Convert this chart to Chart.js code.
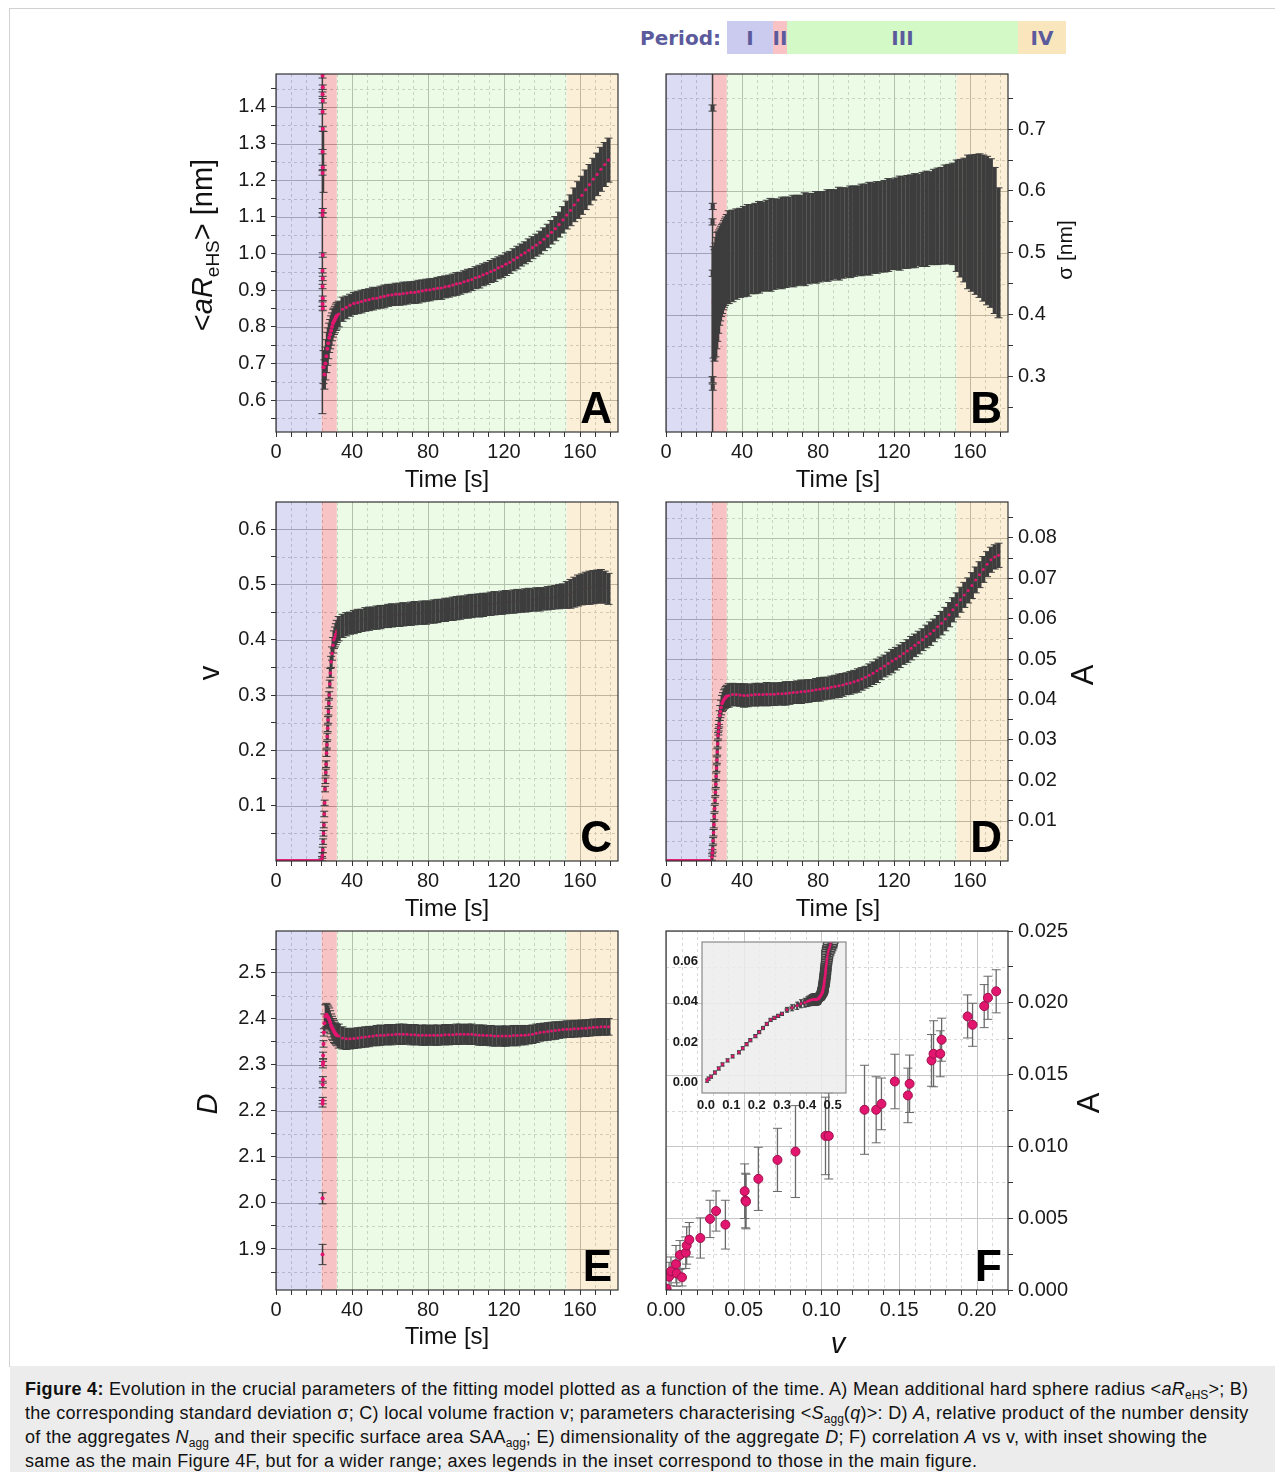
<!DOCTYPE html>
<html>
<head>
<meta charset="utf-8">
<script src="https://cdn.jsdelivr.net/npm/chart.js@4.4.1/dist/chart.umd.min.js"></script>
<style>
  body { margin: 0; width: 1275px; height: 1472px; position: relative; overflow: hidden; background: #fff;
         font-family: "Liberation Sans", Arial, sans-serif; }
  canvas { position: absolute; }
  .frame { position: absolute; left: 9px; top: 8px; width: 1266px; height: 1358px;
           border-left: 1px solid #d2d2d2; border-top: 1px solid #d2d2d2; }
  .per { position: absolute; top: 21px; height: 33px; display: flex; align-items: center; justify-content: center;
         font-family: "DejaVu Sans", sans-serif; font-weight: bold; font-size: 20px; color: #5b5a9c; }
  #caption { position: absolute; left: 10px; top: 1366px; width: 1250px; height: 95px; padding: 11px 0 0 15px;
             background: #ececec; font-size: 18px; letter-spacing: 0.3px; line-height: 24px; color: #111; white-space: nowrap; }
  #caption sub { font-size: 12px; vertical-align: -4px; line-height: 0; letter-spacing: 0; }
</style>
</head>
<body>
<div class="frame"></div>

<div class="per" style="left:640px;width:84px;justify-content:flex-start">Period:</div>
<div class="per" style="left:727px;width:46px;background:#cbcbef">I</div>
<div class="per" style="left:773px;width:14px;background:#f9c3c6">II</div>
<div class="per" style="left:787px;width:231px;background:#d3fac6">III</div>
<div class="per" style="left:1018px;width:48px;background:#fae6bd">IV</div>

<canvas id="chartA"></canvas>
<canvas id="chartB"></canvas>
<canvas id="chartC"></canvas>
<canvas id="chartD"></canvas>
<canvas id="chartE"></canvas>
<canvas id="chartF"></canvas>
<canvas id="chartInset"></canvas>

<div id="caption"><b>Figure 4:</b> Evolution in the crucial parameters of the fitting model plotted as a function of the time. A) Mean additional hard sphere radius &lt;<i>aR</i><sub>eHS</sub>&gt;; B)<br>the corresponding standard deviation σ; C) local volume fraction v; parameters characterising &lt;<i>S</i><sub>agg</sub>(<i>q</i>)&gt;: D) <i>A</i>, relative product of the number density<br>of the aggregates <i>N</i><sub>agg</sub> and their specific surface area SAA<sub>agg</sub>; E) dimensionality of the aggregate <i>D</i>; F) correlation <i>A</i> vs v, with inset showing the<br>same as the main Figure 4F, but for a wider range; axes legends in the inset correspond to those in the main figure.</div>

<script>
// ---- periods (time boundaries in s) ----
const periodBounds = [0, 24, 32, 153, 180];
const periodColors = ['rgba(186,186,234,0.5)', 'rgba(239,135,137,0.5)', 'rgba(215,247,205,0.5)', 'rgba(249,223,177,0.5)'];

// ---- ticks ----
const timeTicks = [0, 8, 16, 24, 32, 40, 48, 56, 64, 72, 80, 88, 96, 104, 112, 120, 128, 136, 144, 152, 160, 168, 176];
const timeLabels = [0, 40, 80, 120, 160];
const aRticks = [0.55, 0.6, 0.65, 0.7, 0.75, 0.8, 0.85, 0.9, 0.95, 1.0, 1.05, 1.1, 1.15, 1.2, 1.25, 1.3, 1.35, 1.4, 1.45];
const aRlabels = [0.6, 0.7, 0.8, 0.9, 1.0, 1.1, 1.2, 1.3, 1.4];
const sigmaTicks = [0.25, 0.3, 0.35, 0.4, 0.45, 0.5, 0.55, 0.6, 0.65, 0.7, 0.75];
const sigmaLabels = [0.3, 0.4, 0.5, 0.6, 0.7];
const vTicks = [0.05, 0.1, 0.15, 0.2, 0.25, 0.3, 0.35, 0.4, 0.45, 0.5, 0.55, 0.6];
const vLabels = [0.1, 0.2, 0.3, 0.4, 0.5, 0.6];
const aTicks = [0.005, 0.01, 0.015, 0.02, 0.025, 0.03, 0.035, 0.04, 0.045, 0.05, 0.055, 0.06, 0.065, 0.07, 0.075, 0.08, 0.085];
const aLabels = [0.01, 0.02, 0.03, 0.04, 0.05, 0.06, 0.07, 0.08];
const dTicks = [1.85, 1.9, 1.95, 2.0, 2.05, 2.1, 2.15, 2.2, 2.25, 2.3, 2.35, 2.4, 2.45, 2.5, 2.55];
const dLabels = [1.9, 2.0, 2.1, 2.2, 2.3, 2.4, 2.5];
const fxTicks = [0, 0.01, 0.02, 0.03, 0.04, 0.05, 0.06, 0.07, 0.08, 0.09, 0.1, 0.11, 0.12, 0.13, 0.14, 0.15, 0.16, 0.17, 0.18, 0.19, 0.2, 0.21, 0.22];
const fxLabels = [0, 0.05, 0.1, 0.15, 0.2];
const fyTicks = [0, 0.0025, 0.005, 0.0075, 0.01, 0.0125, 0.015, 0.0175, 0.02, 0.0225, 0.025];
const fyLabels = [0, 0.005, 0.01, 0.015, 0.02, 0.025];
const insetXLabels = [0, 0.1, 0.2, 0.3, 0.4, 0.5];
const insetYLabels = [0, 0.02, 0.04, 0.06];

// ---- shared time grid of the main (period III/IV) readings ----
const mainTime = [
  33, 35, 37, 39, 41, 43, 45, 47,
  49, 51, 53, 55, 57, 59, 61, 63,
  65, 67, 69, 71, 73, 75, 77, 79,
  81, 83, 85, 87, 89, 91, 93, 95,
  97, 99, 101, 103, 105, 107, 109, 111,
  113, 115, 117, 119, 121, 123, 125, 127,
  129, 131, 133, 135, 137, 139, 141, 143,
  145, 147, 149, 151, 153, 155, 157, 159,
  161, 163, 165, 167, 169, 171, 173, 175];

// ---- A: <aR_eHS> [nm] ----
const aRspikeTime = [24.4, 25.0];
const aRspike = [1.06, 1.25];
const aRspikeErr = [0.497, 0.083];
const aRearlyTime = [24.5, 24.6, 24.5, 24.6, 24.5, 24.6, 24.5, 24.6, 24.5, 24.6, 24.5, 24.6, 24.5, 24.6, 24.5, 24.6, 24.5, 24.6,
  25.0, 25.5, 26.0, 26.5, 27.0, 27.5, 28.0, 28.5, 29.0, 29.5, 30.0, 30.5, 31.0, 31.5, 32.0];
const aRearly = [1.485, 1.454, 1.435, 1.417, 1.387, 1.340, 1.278, 1.235, 1.220, 1.117, 1.105, 0.996, 0.953, 0.932, 0.910, 0.878, 0.862, 0.850,
  0.69, 0.67, 0.70, 0.72, 0.74, 0.755, 0.77, 0.78, 0.79, 0.80, 0.81, 0.815, 0.82, 0.826, 0.83];
const aRearlyErr = [0.006, 0.006, 0.006, 0.006, 0.006, 0.006, 0.006, 0.006, 0.006, 0.006, 0.006, 0.006, 0.006, 0.006, 0.006, 0.006, 0.006, 0.006,
  0.045, 0.04, 0.045, 0.045, 0.045, 0.042, 0.04, 0.04, 0.04, 0.038, 0.038, 0.036, 0.036, 0.036, 0.036];
const aRmain = [
  0.835, 0.848, 0.853, 0.859, 0.864, 0.866, 0.869, 0.872,
  0.874, 0.877, 0.878, 0.881, 0.883, 0.886, 0.887, 0.889,
  0.889, 0.891, 0.892, 0.894, 0.894, 0.896, 0.898, 0.900,
  0.901, 0.903, 0.905, 0.906, 0.909, 0.911, 0.914, 0.917,
  0.919, 0.923, 0.926, 0.929, 0.934, 0.937, 0.942, 0.946,
  0.951, 0.955, 0.961, 0.965, 0.971, 0.976, 0.983, 0.989,
  0.996, 1.002, 1.009, 1.016, 1.023, 1.030, 1.039, 1.048,
  1.058, 1.068, 1.079, 1.092, 1.105, 1.118, 1.133, 1.146,
  1.159, 1.174, 1.188, 1.203, 1.216, 1.230, 1.243, 1.255];
const aRmainErr = [
  0.035, 0.033, 0.031, 0.030, 0.030, 0.030, 0.031, 0.030,
  0.030, 0.031, 0.029, 0.030, 0.031, 0.030, 0.029, 0.030,
  0.030, 0.031, 0.030, 0.029, 0.030, 0.031, 0.030, 0.030,
  0.030, 0.029, 0.030, 0.031, 0.030, 0.030, 0.030, 0.031,
  0.030, 0.030, 0.031, 0.030, 0.030, 0.031, 0.030, 0.030,
  0.030, 0.031, 0.030, 0.030, 0.031, 0.030, 0.030, 0.031,
  0.030, 0.030, 0.031, 0.030, 0.030, 0.031, 0.031, 0.032,
  0.032, 0.033, 0.034, 0.036, 0.038, 0.042, 0.046, 0.050,
  0.052, 0.054, 0.055, 0.057, 0.058, 0.060, 0.060, 0.060];

// ---- B: sigma [nm] ----
const sigmaSpikeTime = [24.5];
const sigmaSpike = [0.5];
const sigmaSpikeErr = [0.36];
const sigmaEarlyTime = [24.5, 24.6, 24.5, 24.6, 24.5, 24.6,
  25.0, 25.5, 26.0, 26.5, 27.0, 27.5, 28.0, 28.5, 29.0, 29.5, 30.0, 30.5, 31.0, 31.5, 32.0];
const sigmaEarly = [0.734, 0.575, 0.550, 0.467, 0.295, 0.283,
  0.42, 0.415, 0.424, 0.435, 0.445, 0.452, 0.46, 0.465, 0.47, 0.474, 0.478, 0.482, 0.485, 0.488, 0.49];
const sigmaEarlyErr = [0.005, 0.005, 0.005, 0.005, 0.005, 0.005,
  0.09, 0.09, 0.092, 0.09, 0.088, 0.082, 0.077, 0.075, 0.073, 0.072, 0.07, 0.07, 0.07, 0.07, 0.072];
const sigmaMain = [
  0.493, 0.495, 0.498, 0.500, 0.502, 0.504, 0.506, 0.507,
  0.509, 0.510, 0.512, 0.513, 0.514, 0.515, 0.516, 0.517,
  0.518, 0.519, 0.520, 0.521, 0.522, 0.523, 0.524, 0.525,
  0.526, 0.527, 0.528, 0.529, 0.530, 0.531, 0.532, 0.533,
  0.534, 0.535, 0.536, 0.537, 0.538, 0.539, 0.540, 0.541,
  0.542, 0.543, 0.545, 0.546, 0.547, 0.548, 0.549, 0.550,
  0.551, 0.552, 0.553, 0.554, 0.555, 0.556, 0.558, 0.559,
  0.560, 0.562, 0.563, 0.563, 0.560, 0.556, 0.553, 0.550,
  0.548, 0.546, 0.544, 0.540, 0.536, 0.532, 0.520, 0.500];
const sigmaMainErr = [
  0.075, 0.074, 0.073, 0.072, 0.073, 0.074, 0.072, 0.073,
  0.074, 0.072, 0.073, 0.075, 0.073, 0.072, 0.074, 0.073,
  0.072, 0.074, 0.073, 0.072, 0.075, 0.073, 0.072, 0.074,
  0.073, 0.072, 0.074, 0.073, 0.072, 0.075, 0.073, 0.072,
  0.074, 0.073, 0.072, 0.074, 0.073, 0.075, 0.073, 0.074,
  0.073, 0.074, 0.075, 0.073, 0.074, 0.076, 0.074, 0.075,
  0.075, 0.076, 0.074, 0.076, 0.077, 0.075, 0.077, 0.078,
  0.078, 0.080, 0.080, 0.082, 0.090, 0.095, 0.100, 0.108,
  0.110, 0.113, 0.116, 0.118, 0.120, 0.120, 0.118, 0.105];

// ---- C and D share their time grid (v and A come from the same fits) ----
const cdZeroTime = [0, 1, 2, 3, 4, 5, 6, 7, 8, 9, 10, 11, 12, 13, 14, 15, 16, 17, 18, 19, 20, 21, 22, 23];
const vZero = [0, 0, 0, 0, 0, 0, 0, 0, 0, 0, 0, 0, 0, 0, 0, 0, 0, 0, 0, 0, 0, 0, 0, 0];
const aZero = [0, 0, 0, 0, 0, 0, 0, 0, 0, 0, 0, 0, 0, 0, 0, 0, 0, 0, 0, 0, 0, 0, 0, 0];
const cdEarlyTime = [24.2, 24.4, 24.6, 24.8, 25.0, 25.2, 25.4, 25.6, 25.8, 26.0, 26.2, 26.4, 26.6, 26.8, 27.0,
  27.2, 27.4, 27.6, 27.8, 28.0, 28.3, 28.6, 29.0, 29.5, 30.0, 30.5, 31.0, 31.5, 32.0];

// C: local volume fraction v
const vEarly = [0.004, 0.010, 0.020, 0.035, 0.050, 0.065, 0.085, 0.105, 0.130, 0.145, 0.160, 0.175, 0.195, 0.210, 0.225,
  0.240, 0.255, 0.270, 0.285, 0.300, 0.320, 0.340, 0.360, 0.375, 0.390, 0.400, 0.405, 0.410, 0.415];
const vEarlyErr = [0.004, 0.005, 0.005, 0.005, 0.005, 0.005, 0.005, 0.005, 0.005, 0.005, 0.006, 0.006, 0.006, 0.006, 0.006,
  0.006, 0.006, 0.006, 0.006, 0.006, 0.007, 0.008, 0.010, 0.012, 0.014, 0.016, 0.018, 0.019, 0.020];
const vMain = [
  0.420, 0.425, 0.428, 0.430, 0.432, 0.434, 0.435, 0.437,
  0.438, 0.439, 0.440, 0.441, 0.442, 0.443, 0.444, 0.444,
  0.445, 0.446, 0.446, 0.447, 0.448, 0.448, 0.449, 0.449,
  0.450, 0.451, 0.452, 0.453, 0.454, 0.455, 0.456, 0.457,
  0.458, 0.459, 0.460, 0.461, 0.462, 0.462, 0.463, 0.464,
  0.465, 0.466, 0.466, 0.467, 0.468, 0.468, 0.469, 0.470,
  0.470, 0.471, 0.472, 0.472, 0.473, 0.473, 0.474, 0.475,
  0.476, 0.477, 0.478, 0.479, 0.481, 0.483, 0.486, 0.489,
  0.491, 0.493, 0.494, 0.495, 0.496, 0.497, 0.495, 0.492];
const vMainErr = [
  0.022, 0.021, 0.021, 0.020, 0.021, 0.021, 0.020, 0.021,
  0.021, 0.020, 0.021, 0.021, 0.020, 0.021, 0.021, 0.020,
  0.021, 0.021, 0.020, 0.021, 0.021, 0.020, 0.021, 0.021,
  0.020, 0.021, 0.021, 0.020, 0.021, 0.020, 0.021, 0.021,
  0.021, 0.020, 0.021, 0.021, 0.020, 0.021, 0.021, 0.020,
  0.021, 0.021, 0.020, 0.021, 0.021, 0.020, 0.021, 0.021,
  0.020, 0.021, 0.021, 0.020, 0.021, 0.021, 0.020, 0.021,
  0.021, 0.021, 0.022, 0.022, 0.024, 0.026, 0.027, 0.028,
  0.028, 0.029, 0.030, 0.030, 0.030, 0.030, 0.029, 0.028];

// D: A (relative N_agg * SAA_agg)
const aEarly = [0.001, 0.002, 0.003, 0.005, 0.007, 0.009, 0.011, 0.013, 0.015, 0.017, 0.019, 0.021, 0.023, 0.025, 0.027,
  0.029, 0.031, 0.032, 0.033, 0.034, 0.036, 0.037, 0.038, 0.039, 0.0395, 0.040, 0.0403, 0.0406, 0.0408];
const aEarlyErr = [0.0008, 0.0008, 0.0008, 0.0008, 0.0008, 0.0008, 0.0008, 0.0008, 0.0008, 0.0008, 0.0008, 0.0008, 0.0008, 0.0008, 0.0008,
  0.0008, 0.0008, 0.0008, 0.0008, 0.0008, 0.0012, 0.0015, 0.0018, 0.0020, 0.0022, 0.0024, 0.0025, 0.0026, 0.0027];
const aMain = [
  0.0410, 0.0412, 0.0412, 0.0411, 0.0410, 0.0410, 0.0411, 0.0412,
  0.0412, 0.0412, 0.0413, 0.0413, 0.0413, 0.0414, 0.0414, 0.0415,
  0.0416, 0.0417, 0.0418, 0.0419, 0.0420, 0.0421, 0.0422, 0.0424,
  0.0425, 0.0427, 0.0428, 0.0430, 0.0432, 0.0434, 0.0436, 0.0439,
  0.0441, 0.0444, 0.0447, 0.0451, 0.0455, 0.0460, 0.0465, 0.0471,
  0.0477, 0.0483, 0.0489, 0.0495, 0.0501, 0.0507, 0.0514, 0.0520,
  0.0527, 0.0534, 0.0541, 0.0548, 0.0556, 0.0563, 0.0571, 0.0580,
  0.0589, 0.0599, 0.0610, 0.0622, 0.0634, 0.0647, 0.0659, 0.0670,
  0.0682, 0.0696, 0.0709, 0.0722, 0.0735, 0.0746, 0.0753, 0.0757];
const aMainErr = [
  0.0029, 0.0028, 0.0027, 0.0028, 0.0029, 0.0028, 0.0027, 0.0028,
  0.0028, 0.0027, 0.0029, 0.0028, 0.0028, 0.0027, 0.0028, 0.0029,
  0.0028, 0.0027, 0.0028, 0.0029, 0.0028, 0.0028, 0.0027, 0.0028,
  0.0029, 0.0028, 0.0027, 0.0028, 0.0028, 0.0029, 0.0028, 0.0027,
  0.0028, 0.0028, 0.0029, 0.0028, 0.0027, 0.0028, 0.0028, 0.0029,
  0.0028, 0.0027, 0.0028, 0.0029, 0.0028, 0.0028, 0.0027, 0.0028,
  0.0029, 0.0028, 0.0028, 0.0027, 0.0028, 0.0029, 0.0028, 0.0028,
  0.0029, 0.0029, 0.0030, 0.0030, 0.0030, 0.0031, 0.0031, 0.0031,
  0.0032, 0.0032, 0.0032, 0.0032, 0.0031, 0.0031, 0.0030, 0.0030];

// ---- E: dimensionality D ----
const dEarlyTime = [24.5, 24.5, 24.5, 24.6, 24.6, 24.7, 24.7, 24.8, 24.8, 25.0, 25.2, 25.5, 26.0, 26.5, 27.0,
  27.5, 28.0, 28.5, 29.0, 29.5, 30.0, 30.5, 31.0, 31.5, 32.0];
const dEarly = [1.888, 2.010, 2.215, 2.222, 2.257, 2.267, 2.300, 2.305, 2.320, 2.345, 2.370, 2.390, 2.405, 2.408, 2.405,
  2.402, 2.398, 2.392, 2.385, 2.380, 2.376, 2.372, 2.369, 2.366, 2.364];
const dEarlyErr = [0.022, 0.012, 0.007, 0.007, 0.007, 0.007, 0.007, 0.007, 0.007, 0.007, 0.008, 0.020, 0.025, 0.025, 0.025,
  0.025, 0.025, 0.025, 0.025, 0.025, 0.024, 0.024, 0.023, 0.023, 0.023];
const dMain = [
  2.362, 2.358, 2.356, 2.356, 2.357, 2.358, 2.359, 2.360,
  2.361, 2.362, 2.363, 2.364, 2.364, 2.365, 2.365, 2.366,
  2.366, 2.366, 2.366, 2.365, 2.365, 2.364, 2.364, 2.364,
  2.364, 2.364, 2.364, 2.364, 2.365, 2.365, 2.365, 2.366,
  2.366, 2.366, 2.366, 2.366, 2.365, 2.364, 2.364, 2.363,
  2.363, 2.362, 2.362, 2.362, 2.362, 2.362, 2.363, 2.363,
  2.364, 2.364, 2.365, 2.366, 2.368, 2.370, 2.371, 2.372,
  2.373, 2.374, 2.375, 2.376, 2.377, 2.377, 2.378, 2.378,
  2.379, 2.379, 2.380, 2.381, 2.381, 2.382, 2.382, 2.382];
const dMainErr = [
  0.026, 0.024, 0.023, 0.022, 0.022, 0.022, 0.022, 0.022,
  0.022, 0.021, 0.022, 0.022, 0.021, 0.022, 0.022, 0.021,
  0.022, 0.022, 0.021, 0.022, 0.022, 0.021, 0.022, 0.022,
  0.021, 0.022, 0.022, 0.021, 0.022, 0.022, 0.021, 0.022,
  0.022, 0.021, 0.022, 0.022, 0.021, 0.022, 0.022, 0.021,
  0.022, 0.022, 0.021, 0.022, 0.022, 0.021, 0.022, 0.022,
  0.021, 0.021, 0.020, 0.020, 0.020, 0.019, 0.019, 0.019,
  0.019, 0.019, 0.018, 0.018, 0.018, 0.018, 0.018, 0.018,
  0.018, 0.018, 0.018, 0.018, 0.018, 0.018, 0.018, 0.018];

// ---- F: A vs v ----
const fV = [0.0004, 0.0020, 0.0032, 0.0064, 0.0069, 0.0090, 0.0103, 0.0127, 0.0133, 0.0150,
  0.0221, 0.0283, 0.0322, 0.0382, 0.0506, 0.0511, 0.0515, 0.0594, 0.0717, 0.0833,
  0.1026, 0.1047, 0.1277, 0.1352, 0.1386, 0.1472, 0.1556, 0.1567, 0.1708, 0.1721,
  0.1764, 0.1773, 0.1940, 0.1972, 0.2047, 0.2071, 0.2124];
const fA = [0.0001, 0.00093, 0.0013, 0.0018, 0.00116, 0.00244, 0.00088, 0.0026, 0.0031, 0.0035,
  0.00362, 0.00495, 0.0055, 0.00455, 0.00688, 0.00623, 0.00616, 0.00774, 0.00906, 0.00964,
  0.01073, 0.01073, 0.01255, 0.01255, 0.01296, 0.01452, 0.01355, 0.01436, 0.01599, 0.01645,
  0.01645, 0.01743, 0.01905, 0.01847, 0.01977, 0.02035, 0.0208];
const fErr = [0, 0.001, 0.001, 0.0013, 0.0009, 0.001, 0.0006, 0.0011, 0.0013, 0.0012,
  0.0014, 0.0013, 0.0014, 0.0017, 0.0019, 0.0019, 0.0019, 0.0022, 0.0022, 0.0032,
  0.0027, 0.003, 0.0031, 0.0023, 0.0018, 0.0019, 0.0019, 0.002, 0.0018, 0.0023,
  0.0016, 0.0015, 0.0015, 0.0015, 0.0015, 0.0015, 0.0015];

// ---- drawing helpers ----
const PINK = '#e2166f';
const BAR = '#3d3d3d';
const FONT = '"Liberation Sans", Arial, sans-serif';
Chart.defaults.font.family = FONT;
Chart.defaults.color = '#1a1a1a';

const isIn = (v, list) => list.some(l => Math.abs(l - v) < 1e-9);
const pts = (xs, ys) => xs.map((x, i) => ({ x: x, y: ys[i] }));

function errSet(xs, ys, errs, style) {
  return Object.assign({
    data: pts(xs, ys), yErr: errs, pointRadius: 1.6, pointBackgroundColor: PINK, pointBorderWidth: 0,
    errColor: BAR, errWidth: 4, capSize: 4
  }, style);
}

function drawErrorBars(chart, over) {
  const ctx = chart.ctx, xs = chart.scales.x, ys = chart.scales.y;
  chart.data.datasets.forEach((ds, i) => {
    if (!ds.yErr || !!ds.barsOver !== over) return;
    const meta = chart.getDatasetMeta(i);
    const cap = ds.capSize;
    ctx.strokeStyle = ds.errColor;
    meta.data.forEach((el, j) => {
      const d = ds.data[j];
      const e = ds.yErr[j];
      if (e > 0) {
        const y0 = ys.getPixelForValue(d.y - e), y1 = ys.getPixelForValue(d.y + e);
        ctx.lineWidth = ds.errWidth;
        ctx.beginPath(); ctx.moveTo(el.x, y0); ctx.lineTo(el.x, y1); ctx.stroke();
        ctx.lineWidth = 1;
        ctx.beginPath();
        ctx.moveTo(el.x - cap, y0); ctx.lineTo(el.x + cap, y0);
        ctx.moveTo(el.x - cap, y1); ctx.lineTo(el.x + cap, y1);
        ctx.stroke();
      }
      if (ds.xErr && ds.xErr[j] > 0) {
        const x0 = xs.getPixelForValue(d.x - ds.xErr[j]), x1 = xs.getPixelForValue(d.x + ds.xErr[j]);
        ctx.lineWidth = ds.errWidth;
        ctx.beginPath(); ctx.moveTo(x0, el.y); ctx.lineTo(x1, el.y); ctx.stroke();
        ctx.lineWidth = 1;
        ctx.beginPath();
        ctx.moveTo(x0, el.y - cap); ctx.lineTo(x0, el.y + cap);
        ctx.moveTo(x1, el.y - cap); ctx.lineTo(x1, el.y + cap);
        ctx.stroke();
      }
    });
  });
}

function drawTitle(ctx, t) {
  ctx.save();
  ctx.translate(t.x, t.y);
  if (t.rot) ctx.rotate(t.rot * Math.PI / 180);
  const parts = t.parts.map(q => {
    const size = q.sub ? Math.round(t.size * 0.66) : t.size;
    const font = (q.italic ? 'italic ' : '') + size + 'px ' + FONT;
    ctx.font = font;
    return { t: q.t, font: font, w: ctx.measureText(q.t).width, dy: q.sub ? t.size * 0.22 : 0 };
  });
  const total = parts.reduce((s, q) => s + q.w, 0);
  let x = -total / 2;
  ctx.fillStyle = '#111';
  ctx.textAlign = 'left';
  ctx.textBaseline = 'alphabetic';
  parts.forEach(q => { ctx.font = q.font; ctx.fillText(q.t, x, t.size * 0.36 + q.dy); x += q.w; });
  ctx.restore();
}

const panelPlugin = {
  id: 'panel',
  beforeDatasetsDraw(chart) {
    const cfg = chart.canvas.panelCfg;
    const { ctx, chartArea: a } = chart;
    const xs = chart.scales.x, ys = chart.scales.y;
    ctx.save();
    ctx.beginPath(); ctx.rect(a.left, a.top, a.width, a.height); ctx.clip();
    if (cfg.background) { ctx.fillStyle = cfg.background; ctx.fillRect(a.left, a.top, a.width, a.height); }
    if (!cfg.noGrid) {
      const lines = (scale, values, horiz) => values.forEach(v => {
        const p = Math.round(scale.getPixelForValue(v)) + 0.5;
        ctx.beginPath();
        if (horiz) { ctx.moveTo(a.left, p); ctx.lineTo(a.right, p); }
        else { ctx.moveTo(p, a.top); ctx.lineTo(p, a.bottom); }
        ctx.stroke();
      });
      ctx.lineWidth = 1;
      ctx.setLineDash([3, 3]);
      ctx.strokeStyle = cfg.minorColor;
      lines(xs, cfg.xTicks.filter(v => !isIn(v, cfg.xLabels)), false);
      lines(ys, cfg.yTicks.filter(v => !isIn(v, cfg.yLabels)), true);
      ctx.setLineDash([]);
      ctx.strokeStyle = cfg.majorColor;
      lines(xs, cfg.xLabels, false);
      lines(ys, cfg.yLabels, true);
    }
    if (cfg.periods) {
      for (let i = 0; i < periodColors.length; i++) {
        const x0 = xs.getPixelForValue(periodBounds[i]), x1 = xs.getPixelForValue(periodBounds[i + 1]);
        ctx.fillStyle = periodColors[i];
        ctx.fillRect(x0, a.top, x1 - x0, a.height);
      }
    }
    drawErrorBars(chart, false);
    ctx.restore();
  },
  afterDatasetsDraw(chart) {
    const cfg = chart.canvas.panelCfg;
    const { ctx, chartArea: a } = chart;
    ctx.save();
    ctx.beginPath(); ctx.rect(a.left, a.top, a.width, a.height); ctx.clip();
    drawErrorBars(chart, true);
    ctx.restore();
    ctx.save();
    ctx.strokeStyle = cfg.frameColor || '#333';
    ctx.lineWidth = 1.2;
    ctx.strokeRect(a.left, a.top, a.width, a.height);
    if (cfg.letter) {
      ctx.font = 'bold 44px ' + FONT;
      ctx.fillStyle = '#000';
      ctx.textAlign = 'right';
      ctx.textBaseline = 'alphabetic';
      ctx.fillText(cfg.letter, a.right - 6, a.bottom - 9);
    }
    ctx.restore();
  },
  afterDraw(chart) {
    const cfg = chart.canvas.panelCfg;
    (cfg.titles || []).forEach(t => drawTitle(chart.ctx, Object.assign({}, t, { x: t.x - cfg.box.x, y: t.y - cfg.box.y })));
  }
};

function makePanel(id, box, area, cfg) {
  const cv = document.getElementById(id);
  cv.width = box.w; cv.height = box.h;
  cv.style.left = box.x + 'px'; cv.style.top = box.y + 'px';
  cfg.box = box;
  cv.panelCfg = cfg;
  const yRight = cfg.yPos === 'right';
  const yW = yRight ? box.x + box.w - area.r : area.l - box.x;
  const xH = box.y + box.h - area.b;
  const tickFont = cfg.tickFont || { size: 20 };
  const drawTicks = cfg.drawTicks !== false;
  return new Chart(cv, {
    type: 'scatter',
    data: { datasets: cfg.datasets },
    options: {
      responsive: false, animation: false, devicePixelRatio: 1,
      layout: { padding: { left: yRight ? area.l - box.x : 0, right: yRight ? 0 : box.x + box.w - area.r, top: area.t - box.y, bottom: 0 } },
      plugins: { legend: { display: false }, tooltip: { enabled: false } },
      scales: {
        x: {
          type: 'linear', min: cfg.xMin, max: cfg.xMax,
          afterBuildTicks: s => { s.ticks = cfg.xTicks.map(v => ({ value: v })); },
          afterFit: s => { s.height = xH; },
          ticks: { autoSkip: false, maxRotation: 0, minRotation: 0, padding: cfg.xPad ?? 3, font: tickFont, color: '#1a1a1a',
                   callback: v => isIn(v, cfg.xLabels) ? cfg.xFmt(v) : '' },
          grid: { drawOnChartArea: false, drawTicks: drawTicks, tickLength: 5, tickColor: '#333' },
          border: { display: false }
        },
        y: {
          type: 'linear', position: yRight ? 'right' : 'left', min: cfg.yMin, max: cfg.yMax,
          afterBuildTicks: s => { s.ticks = cfg.yTicks.map(v => ({ value: v })); },
          afterFit: s => { s.width = yW; },
          ticks: { autoSkip: false, padding: cfg.yPad ?? 5, font: tickFont, color: '#1a1a1a',
                   callback: v => isIn(v, cfg.yLabels) ? cfg.yFmt(v) : '' },
          grid: { drawOnChartArea: false, drawTicks: drawTicks, tickLength: 5, tickColor: '#333' },
          border: { display: false }
        }
      }
    },
    plugins: [panelPlugin]
  });
}

const timeAxis = { xMin: 0, xMax: 180, xTicks: timeTicks, xLabels: timeLabels, xFmt: v => String(v),
  periods: true, majorColor: '#8a8a8a', minorColor: '#b2b2b2' };
const timeTitle = (x, y) => ({ parts: [{ t: 'Time [s]' }], x: x, y: y, size: 24 });

// A
makePanel('chartA', { x: 150, y: 50, w: 490, h: 450 }, { l: 276, t: 74, r: 618, b: 432 }, Object.assign({}, timeAxis, {
  yMin: 0.513, yMax: 1.49, yTicks: aRticks, yLabels: aRlabels, yFmt: v => v.toFixed(1), letter: 'A',
  titles: [
    { parts: [{ t: '<' }, { t: 'aR', italic: true }, { t: 'eHS', sub: true }, { t: '> [nm]' }], x: 202, y: 245, rot: -90, size: 29 },
    timeTitle(447, 478)
  ],
  datasets: [
    errSet(aRspikeTime, aRspike, aRspikeErr, { errWidth: 1.5, pointRadius: 0 }),
    errSet(aRearlyTime, aRearly, aRearlyErr, { pointRadius: 2, errWidth: 3 }),
    errSet(mainTime, aRmain, aRmainErr, { pointRadius: 1.6 })
  ]
}));

// B
makePanel('chartB', { x: 640, y: 50, w: 480, h: 450 }, { l: 666, t: 74, r: 1008, b: 432 }, Object.assign({}, timeAxis, {
  yPos: 'right', yMin: 0.2105, yMax: 0.789, yTicks: sigmaTicks, yLabels: sigmaLabels, yFmt: v => v.toFixed(1), letter: 'B',
  titles: [
    { parts: [{ t: 'σ [nm]' }], x: 1064, y: 250, rot: -90, size: 21 },
    timeTitle(838, 478)
  ],
  datasets: [
    errSet(sigmaSpikeTime, sigmaSpike, sigmaSpikeErr, { errWidth: 1.5, pointRadius: 0 }),
    errSet(sigmaEarlyTime, sigmaEarly, sigmaEarlyErr, { pointRadius: 1.8, barsOver: true }),
    errSet(mainTime, sigmaMain, sigmaMainErr, { pointRadius: 1.5, barsOver: true })
  ]
}));

// C
makePanel('chartC', { x: 150, y: 478, w: 490, h: 452 }, { l: 276, t: 502, r: 618, b: 861 }, Object.assign({}, timeAxis, {
  yMin: 0, yMax: 0.649, yTicks: vTicks, yLabels: vLabels, yFmt: v => v.toFixed(1), letter: 'C',
  titles: [
    { parts: [{ t: 'v' }], x: 209, y: 673, rot: -90, size: 29 },
    timeTitle(447, 907)
  ],
  datasets: [
    errSet(cdZeroTime, vZero, null, { pointRadius: 2 }),
    errSet(cdEarlyTime, vEarly, vEarlyErr, { pointRadius: 1.8, errWidth: 3 }),
    errSet(mainTime, vMain, vMainErr, { pointRadius: 1.8, barsOver: true })
  ]
}));

// D
makePanel('chartD', { x: 640, y: 478, w: 480, h: 452 }, { l: 666, t: 502, r: 1008, b: 861 }, Object.assign({}, timeAxis, {
  yPos: 'right', yMin: 0, yMax: 0.0889, yTicks: aTicks, yLabels: aLabels, yFmt: v => v.toFixed(2), letter: 'D',
  titles: [
    { parts: [{ t: 'A' }], x: 1082, y: 675, rot: -90, size: 31 },
    timeTitle(838, 907)
  ],
  datasets: [
    errSet(cdZeroTime, aZero, null, { pointRadius: 2 }),
    errSet(cdEarlyTime, aEarly, aEarlyErr, { pointRadius: 1.8, errWidth: 3 }),
    errSet(mainTime, aMain, aMainErr, { pointRadius: 1.5 })
  ]
}));

// E
makePanel('chartE', { x: 150, y: 907, w: 490, h: 448 }, { l: 276, t: 931, r: 618, b: 1290 }, Object.assign({}, timeAxis, {
  yMin: 1.811, yMax: 2.59, yTicks: dTicks, yLabels: dLabels, yFmt: v => v.toFixed(1), letter: 'E',
  titles: [
    { parts: [{ t: 'D', italic: true }], x: 207, y: 1104, rot: -90, size: 29 },
    timeTitle(447, 1335)
  ],
  datasets: [
    errSet(dEarlyTime, dEarly, dEarlyErr, { pointRadius: 2, errWidth: 1.5 }),
    errSet(mainTime, dMain, dMainErr, { pointRadius: 1.5 })
  ]
}));

// F
makePanel('chartF', { x: 630, y: 907, w: 490, h: 455 }, { l: 666, t: 931, r: 1008, b: 1290 }, {
  xMin: 0, xMax: 0.22, xTicks: fxTicks, xLabels: fxLabels, xFmt: v => v.toFixed(2),
  yPos: 'right', yMin: 0, yMax: 0.025, yTicks: fyTicks, yLabels: fyLabels, yFmt: v => v.toFixed(3),
  majorColor: '#c6c6c6', minorColor: '#d8d8d8', letter: 'F',
  titles: [
    { parts: [{ t: 'A' }], x: 1088, y: 1103, rot: -90, size: 31 },
    { parts: [{ t: 'v', italic: true }], x: 838, y: 1343, size: 29 }
  ],
  datasets: [
    errSet(fV, fA, fErr, { pointRadius: 4.5, pointBackgroundColor: PINK, pointBorderColor: '#9e0f4c', pointBorderWidth: 1,
                          errColor: '#6a6a6a', errWidth: 1.3, capSize: 4.5 })
  ]
});

// F inset: A against v over the whole run (same readings as panels C and D)
makePanel('chartInset', { x: 660, y: 920, w: 190, h: 196 }, { l: 702, t: 942, r: 846, b: 1093 }, {
  xMin: -0.016, xMax: 0.553, xTicks: insetXLabels, xLabels: insetXLabels, xFmt: v => v.toFixed(1),
  yMin: -0.0051, yMax: 0.0695, yTicks: insetYLabels, yLabels: insetYLabels, yFmt: v => v.toFixed(2),
  tickFont: { size: 13, weight: 'bold' }, drawTicks: false, xPad: 5, yPad: 4,
  noGrid: true, background: 'rgba(236,236,236,0.85)', frameColor: '#8a8a8a',
  datasets: [
    errSet(vEarly.concat(vMain), aEarly.concat(aMain), aEarlyErr.concat(aMainErr), {
      xErr: vEarlyErr.concat(vMainErr), pointRadius: 1.4, errWidth: 2, capSize: 2, errColor: '#404040' })
  ]
});
</script>
</body>
</html>
